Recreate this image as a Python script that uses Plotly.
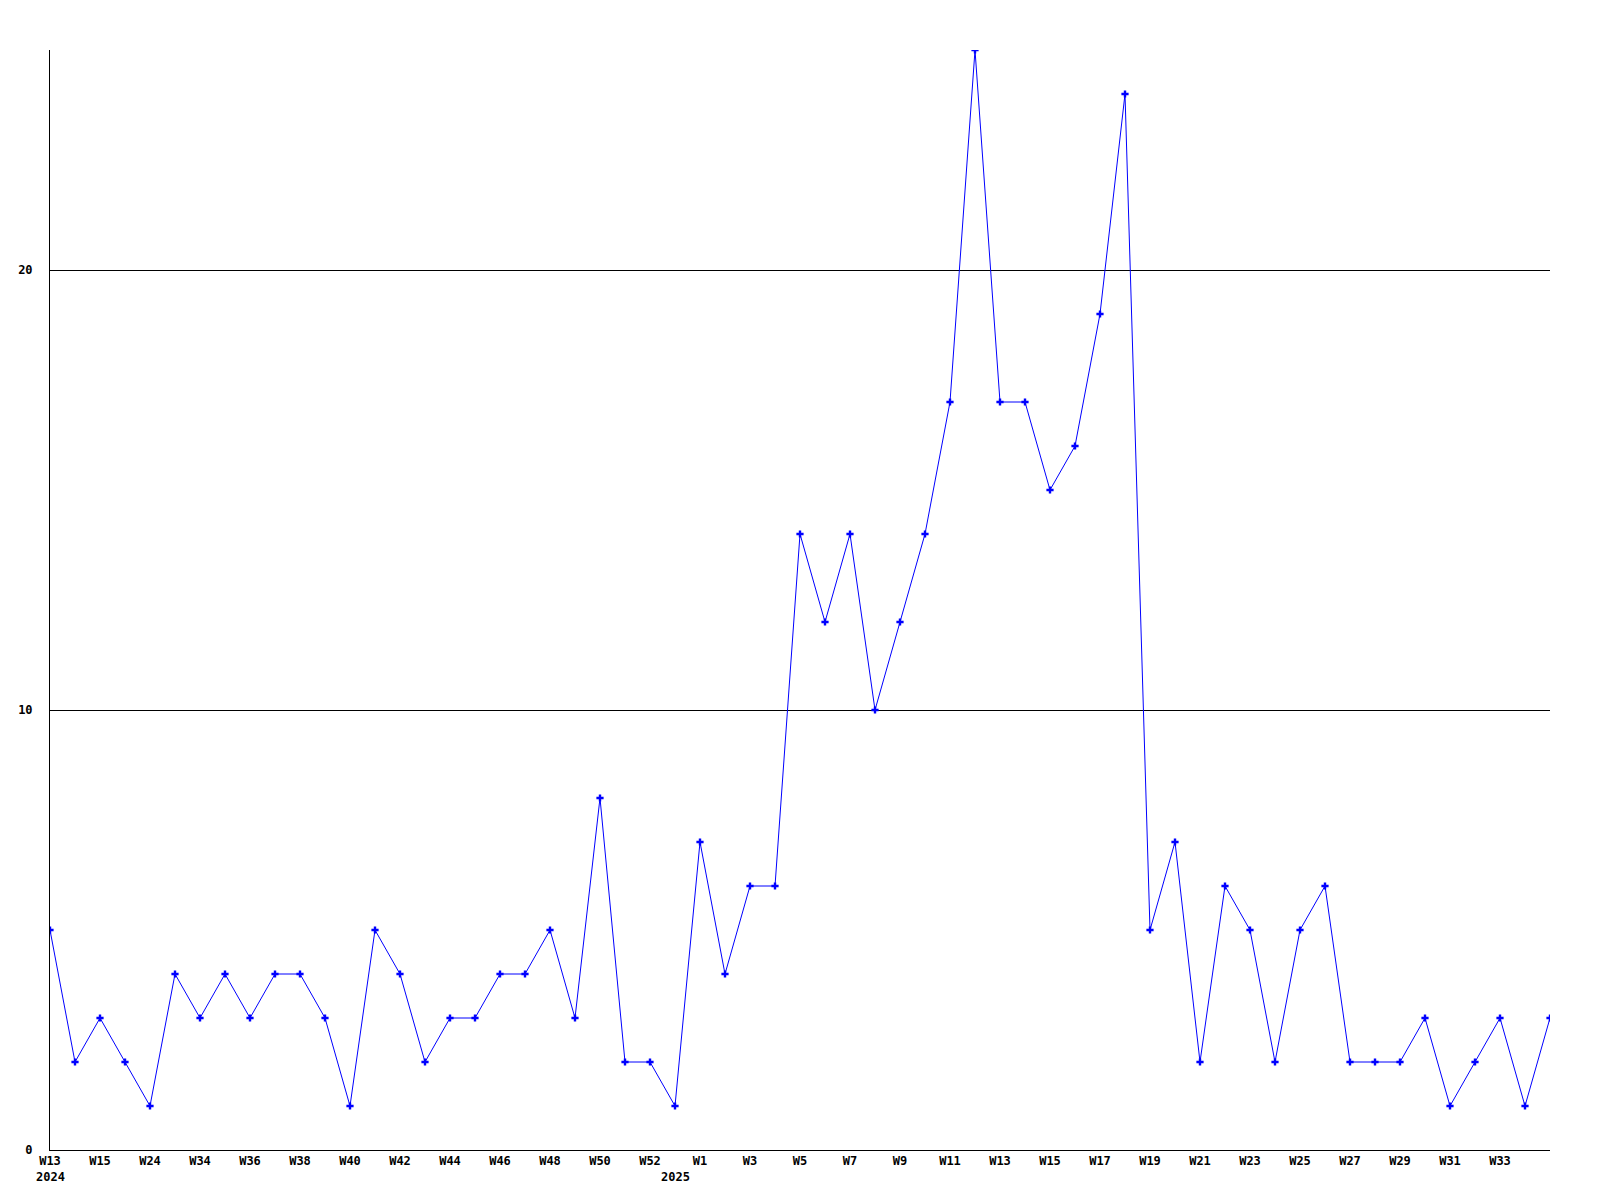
import plotly.graph_objects as go

weeks = [
    "2024-W13", "2024-W14", "2024-W15", "2024-W16", "2024-W24", "2024-W33",
    "2024-W34", "2024-W35", "2024-W36", "2024-W37", "2024-W38", "2024-W39",
    "2024-W40", "2024-W41", "2024-W42", "2024-W43", "2024-W44", "2024-W45",
    "2024-W46", "2024-W47", "2024-W48", "2024-W49", "2024-W50", "2024-W51",
    "2024-W52", "2024-W53", "2025-W1", "2025-W2", "2025-W3", "2025-W4",
    "2025-W5", "2025-W6", "2025-W7", "2025-W8", "2025-W9", "2025-W10",
    "2025-W11", "2025-W12", "2025-W13", "2025-W14", "2025-W15", "2025-W16",
    "2025-W17", "2025-W18", "2025-W19", "2025-W20", "2025-W21", "2025-W22",
    "2025-W23", "2025-W24", "2025-W25", "2025-W26", "2025-W27", "2025-W28",
    "2025-W29", "2025-W30", "2025-W31", "2025-W32", "2025-W33", "2025-W34",
    "2025-W35",
]
values = [
    5, 2, 3, 2, 1, 4, 3, 4, 3, 4, 4, 3, 1, 5, 4, 2, 3, 3, 4, 4, 5, 3, 8, 2, 2,
    1, 7, 4, 6, 6, 14, 12, 14, 10, 12, 14, 17, 25, 17, 17, 15, 16, 19, 24, 5,
    7, 2, 6, 5, 2, 5, 6, 2, 2, 2, 3, 1, 2, 3, 1, 3,
]
tick_labels = [
    "W13", "W15", "W24", "W34", "W36", "W38", "W40", "W42", "W44", "W46",
    "W48", "W50", "W52", "W1", "W3", "W5", "W7", "W9", "W11", "W13", "W15",
    "W17", "W19", "W21", "W23", "W25", "W27", "W29", "W31", "W33", "",
]
year_labels = ["2024", "2025"]
year_positions = ["2024-W13", "2024-W53"]
y_ticks = [0, 10, 20]

idx = list(range(len(weeks)))
font = dict(family="DejaVu Sans Mono", size=12, color="black", weight="bold")

fig = go.Figure()
fig.add_trace(go.Scatter(
    x=idx, y=values, mode="lines+markers",
    line=dict(color="#0000ff", width=1),
    marker=dict(symbol="cross", size=6, color="#0000ff", line=dict(width=0)),
    hovertext=weeks, cliponaxis=True, showlegend=False,
))

for lab, pos in zip(year_labels, year_positions):
    fig.add_annotation(x=weeks.index(pos), y=0, xref="x", yref="y",
                       text=lab, showarrow=False, yshift=-27, font=font,
                       xanchor="center", yanchor="middle")

fig.update_layout(
    width=1584, height=1184,
    margin=dict(l=42, r=42, t=42, b=42, autoexpand=False),
    plot_bgcolor="white", paper_bgcolor="white",
    font=font,
)
fig.update_xaxes(
    range=[0, len(weeks) - 1],
    tickvals=idx[::2], ticktext=tick_labels,
    showgrid=False, zeroline=False, automargin=False,
    showline=True, linecolor="black", linewidth=1,
    ticks="", tickfont=font,
)
fig.update_yaxes(
    range=[0, 25], tickvals=y_ticks, automargin=False,
    showgrid=True, gridcolor="black", gridwidth=1,
    zeroline=False, showline=True, linecolor="black", linewidth=1,
    ticks="", tickfont=font, ticklabelstandoff=14,
)

fig.write_html("out.html")
